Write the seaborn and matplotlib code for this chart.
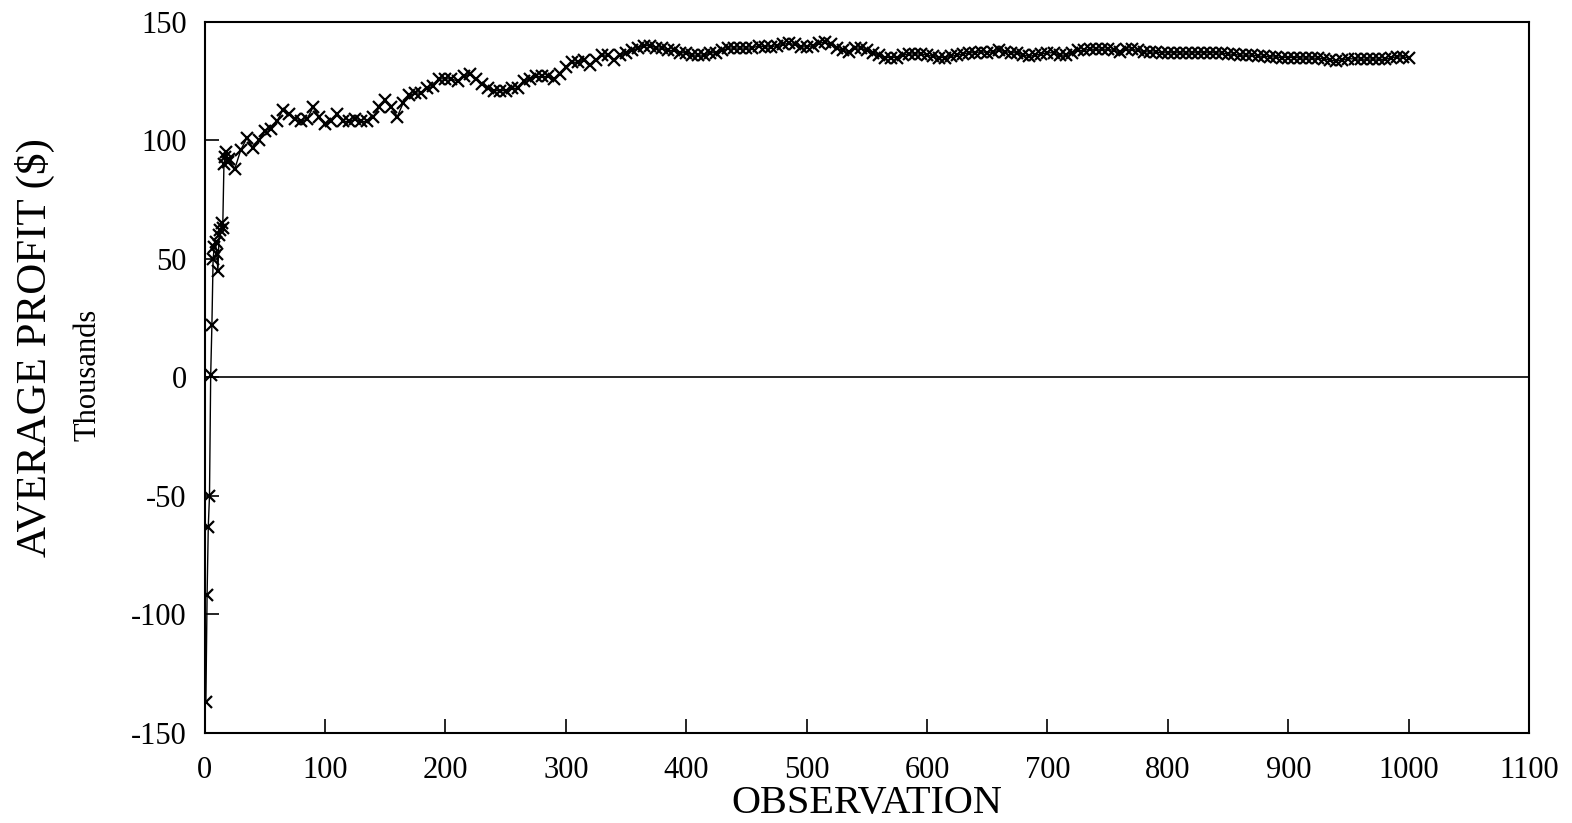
import matplotlib
matplotlib.use("Agg")
import matplotlib.pyplot as plt
import seaborn as sns
import pandas as pd

# ---- data ----
early_obs = list(range(1, 20))
early_profit = [-137, -92, -63, -50, 1, 22, 50, 55, 57, 52, 45, 60, 62, 65, 63, 90, 93, 95, 91]

late_obs = list(range(20, 1001, 5))
late_profit = [
    92, 88, 96, 101, 97, 100, 104, 105, 108, 113,          # 20-65
    111, 109, 108, 109, 114, 110, 107, 108, 111, 108,      # 70-115
    108, 109, 108, 108, 110, 114, 117, 114, 110, 116,      # 120-165
    119, 120, 120, 122, 123, 126, 126, 126, 125, 127,      # 170-215
    128, 126, 124, 122, 121, 121, 121, 122, 122, 125,      # 220-265
    126, 127, 127, 127, 126, 128, 131, 133, 133, 134,      # 270-315
    132, 134, 136, 136, 134, 136, 137, 138, 139, 140,      # 320-365
    140, 139, 139, 138, 138, 137, 137, 136, 136, 136,      # 370-415
    137, 137, 138, 139, 139, 139, 139, 139, 140, 139.5,    # 420-465
    139.5, 140, 140.5, 141, 140.5, 139.5, 139.5, 140, 141, 141.5,  # 470-515
    140.5, 139, 138, 137.5, 139, 139, 138, 137, 136, 135,  # 520-565
    135, 135, 136, 136.5, 136.5, 136.5, 136, 135.5, 135, 135,      # 570-615
    135.5, 136, 136.5, 137, 137, 137.5, 137, 137.5, 138, 137.5,    # 620-665
    137, 137, 136, 135.5, 136, 136.5, 137, 137, 136, 136,          # 670-715
    137, 138, 138, 138.5, 138.5, 138.5, 138.5, 138, 137.5, 138.5,  # 720-765
    138.5, 138, 137.5, 137.3, 137.3, 137, 137, 137, 137, 136.8,    # 770-815
    137, 137, 137, 137, 137, 136.8, 136.5, 136.3, 136, 136,        # 820-865
    136, 135.6, 135.5, 135.3, 135.2, 135, 135, 135, 134.8, 134.8,  # 870-915
    134.8, 134.6, 134.5, 133.8, 133.6, 134, 134.5, 134.4, 134.3, 134.3,  # 920-965
    134.4, 134.3, 134.2, 134.8, 135.3, 135.2, 135,                 # 970-1000
]

x_ticks = list(range(0, 1101, 100))
y_ticks = list(range(-150, 151, 50))
x_label = "OBSERVATION"
y_label = "AVERAGE PROFIT ($)"
y_sublabel = "Thousands"

df = pd.DataFrame({"obs": early_obs + late_obs, "profit": early_profit + late_profit})

sns.set_theme(style="ticks")
plt.rcParams["font.family"] = ["Liberation Serif", "DejaVu Serif"]
plt.rcParams["axes.unicode_minus"] = False
plt.rcParams["text.color"] = "black"
plt.rcParams["axes.labelcolor"] = "black"

fig = plt.figure(figsize=(15.72, 8.23), dpi=100)
ax = fig.add_axes([0.1302, 0.1097, 0.8425, 0.8636])

sns.lineplot(data=df, x="obs", y="profit", ax=ax, color="black", linewidth=1.0,
             marker="x", markersize=8, markeredgewidth=1.6, markeredgecolor="black",
             estimator=None, sort=False)

ax.axhline(0, color="black", linewidth=1.2)

ax.set_xlim(0, 1100)
ax.set_ylim(-150, 150)
ax.set_xticks(x_ticks)
ax.set_yticks(y_ticks)
ax.tick_params(direction="in", length=10, width=1.2, labelsize=22, colors="black")
ax.tick_params(axis="x", pad=17)
ax.tick_params(axis="y", pad=13)
for s in ax.spines.values():
    s.set_color("black")
    s.set_linewidth(1.5)

ax.set_xlabel(x_label, fontsize=29, labelpad=0, color="black")
ax.set_ylabel("")
fig.text(0.022, 0.578, y_label, rotation=90, fontsize=31, ha="center", va="center", color="black")
fig.text(0.056, 0.544, y_sublabel, rotation=90, fontsize=22, ha="center", va="center", color="black")

fig.savefig("out.png", dpi=100)
